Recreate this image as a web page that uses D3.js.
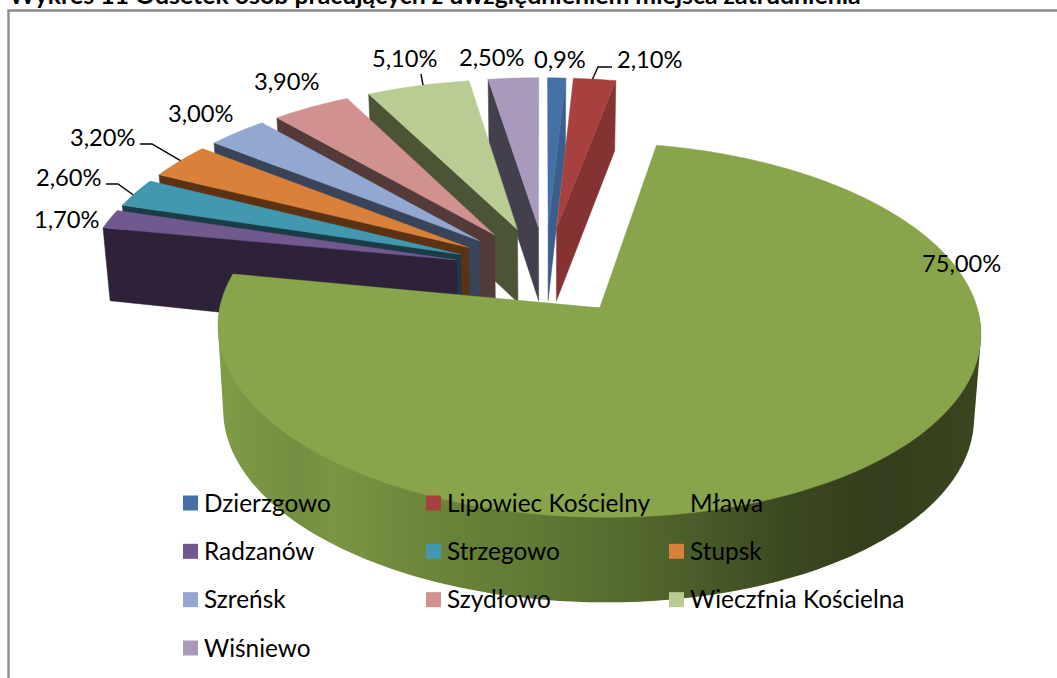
<!DOCTYPE html>
<html><head><meta charset="utf-8">
<script src="https://cdn.jsdelivr.net/npm/d3@7"></script>
<style>html,body{margin:0;padding:0;background:#fff;overflow:hidden}svg{display:block}text{font-family:Lato,"Open Sans",sans-serif;fill:#000}</style>
</head><body><svg id="c" width="1057" height="678"></svg>
<script>
const categories=["Dzierzgowo","Lipowiec Kościelny","Mława","Radzanów","Strzegowo","Stupsk","Szreńsk","Szydłowo","Wieczfnia Kościelna","Wiśniewo"];
const values=[0.9,2.1,75,1.7,2.6,3.2,3,3.9,5.1,2.5];
const valueLabels=["0,9%","2,10%","75,00%","1,70%","2,60%","3,20%","3,00%","3,90%","5,10%","2,50%"];
const topColors=["#4470a6","#a6413f","#89a54c","#71588f","#4198af","#d9803a","#92a8d0","#d09190","#b8cc94","#a899bd"];
const wallColors=["#3a5f8c","#843332","#5c7233","#2d2238","#1a3c46","#5b3314","#3a4458","#553a3a","#4c5436","#433f4d"];
const title="Wykres 11 Odsetek osób pracujących z uwzględnieniem miejsca zatrudnienia";
const wallStops=[[217,"#7f9c48"],[300,"#738e40"],[330,"#7a9644"],[430,"#6b853a"],[530,"#617a35"],[620,"#556b2f"],[700,"#4a5c29"],[790,"#3a4820"],[880,"#333e1c"],[985,"#3a461f"]];
// label layout: left x, vertical centre, leader elbows
const labelPos=[[534,59],[617,59],[922,263],[34,219],[36,177],[70,137],[168,113],[254,81],[372,58],[459,57]];
const leaders={1:[[612,67],[598,67]],4:[[106,184],[118,184]],5:[[140,144],[152,144]],8:[[421,74]]};
const leaderFrac={1:.45,4:.42,5:.52,8:.55};

const W=1057,H=678;
const svg=d3.select("#c");
// plane -> screen projection
const P={x0:546,y0:270.5,fx:370,fy:176.3,p:.115,shear:8.5,E:.25,shrink:.984,roll:5};
const scaleX=d3.scaleLinear().domain([0,1]).range([0,P.fx]);
const scaleY=d3.scaleLinear().domain([0,1]).range([0,P.fy]);
const proj=(X,Y)=>{const w=1-P.p*Y;return [P.x0-P.shear*Y+scaleX(X)/w,P.y0+scaleY(Y)/w+P.roll*X];};
const depth=d3.scaleLinear().domain([-1.25,-.2,.2,1.2]).range([70,73,84,85]);
const lower=(X,Y)=>{const [x,y]=proj(X,Y);return [P.x0+(x-P.x0)*P.shrink,y+depth(Y)];};
const rot=-1.62*Math.PI/180;
const pie=d3.pie().sort(null).startAngle(rot).endAngle(rot+2*Math.PI);
const arcs=pie(values);
const line=d3.line();
const apex=d=>{const m=(d.startAngle+d.endAngle)/2;return [P.E*Math.sin(m),-P.E*Math.cos(m)];};
const rim=(d,a)=>{const [ax,ay]=apex(d);return [ax+Math.sin(a),ay-Math.cos(a)];};
const angles=(a0,a1)=>{const n=Math.max(4,Math.ceil((a1-a0)/0.02));return d3.range(n+1).map(i=>a0+(a1-a0)*i/n);};

const defs=svg.append("defs");
const g=defs.append("linearGradient").attr("id","wallGrad").attr("gradientUnits","userSpaceOnUse").attr("x1",217).attr("x2",985).attr("y1",0).attr("y2",0);
wallStops.forEach(s=>g.append("stop").attr("offset",(s[0]-217)/(985-217)).attr("stop-color",s[1]));

// frame and title
svg.append("path").attr("d",`M8.5,${H}V10.5H${W}`).attr("fill","none").attr("stroke","#8c8c8c").attr("stroke-width",2.4);
svg.append("text").attr("x",9).attr("y",3.5).attr("font-size",24.85).attr("font-weight",700).text(title);

const layer=svg.append("g");
const big=arcs.findIndex(d=>d.value===d3.max(values));
const order=d3.range(arcs.length).filter(i=>i>big).reverse().concat(d3.range(big),[big]);
order.forEach(i=>{
  const d=arcs[i];
  const [ax,ay]=apex(d);
  const mid=(d.startAngle+d.endAngle)/2;
  if(i===big){
    // silhouette of the front half of the drum: hull of the upper and lower rims
    const as=angles(Math.PI/2,3*Math.PI/2);
    const pts=as.map(a=>proj(...rim(d,a))).concat(as.map(a=>lower(...rim(d,a))));
    layer.append("path").attr("d",line(d3.polygonHull(pts))+"Z").attr("fill","url(#wallGrad)");
  } else {
    const e=mid<Math.PI?d.endAngle:d.startAngle;
    const [rx,ry]=rim(d,e);
    layer.append("path").attr("d",line([proj(ax,ay),proj(rx,ry),lower(rx,ry),lower(ax,ay)])+"Z").attr("fill",wallColors[i]).attr("stroke",wallColors[i]).attr("stroke-width",.5);
  }
  const top=[proj(ax,ay)].concat(angles(d.startAngle,d.endAngle).map(a=>proj(...rim(d,a))));
  layer.append("path").attr("d",line(top)+"Z").attr("fill",topColors[i]).attr("stroke",topColors[i]).attr("stroke-width",.4);
});

// leader lines
Object.keys(leaders).forEach(k=>{
  const d=arcs[k];
  const a=d.startAngle+(d.endAngle-d.startAngle)*leaderFrac[k];
  const pts=leaders[k].concat([proj(...rim(d,a))]);
  svg.append("path").attr("d",line(pts)).attr("fill","none").attr("stroke","#000").attr("stroke-width",1.4);
});
// data labels
svg.selectAll("text.v").data(valueLabels).join("text").attr("class","v")
  .attr("x",(d,i)=>labelPos[i][0]).attr("y",(d,i)=>labelPos[i][1]).attr("dy","0.36em").attr("font-size",23.7).text(d=>d);
// legend
const legendX=d3.scalePoint().domain([0,1,2]).range([183,669]);
const legendY=d3.scalePoint().domain([0,1,2,3]).range([503,648]);
const leg=svg.selectAll("g.l").data(categories).join("g").attr("class","l")
  .attr("transform",(d,i)=>`translate(${legendX(i%3)},${legendY(Math.floor(i/3))})`);
leg.append("rect").attr("y",-7.5).attr("width",15).attr("height",15).attr("fill",(d,i)=>topColors[i]);
leg.append("text").attr("x",21).attr("dy","0.36em").attr("font-size",24.4).text(d=>d);
</script></body></html>
